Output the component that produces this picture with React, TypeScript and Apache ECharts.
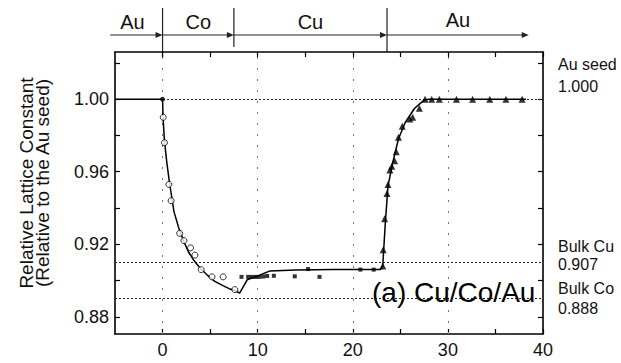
import React, { useEffect, useRef } from "react";
import * as echarts from "echarts";

// ---- data ----
const xTickValues = [0, 5, 10, 15, 20, 25, 30, 35, 40];
const xLabelValues = [0, 10, 20, 30, 40];
const yTickValues = [0.88, 0.9, 0.92, 0.94, 0.96, 0.98, 1.0, 1.02];
const yLabelValues = [0.88, 0.92, 0.96, 1.0];
const gridXValues = [0, 10, 20, 30];
const refLevels = [1.0, 0.907, 0.888];

const seedPoint: [number, number][] = [[0, 1.0]];

const coCircles: [number, number][] = [
  [0.07, 0.99], [0.2, 0.976], [0.67, 0.953], [0.9, 0.944], [1.8, 0.926],
  [2.25, 0.922], [2.94, 0.918], [3.4, 0.914], [4.06, 0.906], [5.2, 0.902],
  [6.37, 0.902], [7.6, 0.895],
];

const cuSquares: [number, number][] = [
  [8.3, 0.902], [9.0, 0.902], [9.4, 0.902], [9.8, 0.902], [10.2, 0.902],
  [10.6, 0.9022], [11.0, 0.9025], [11.7, 0.9026], [13.9, 0.9023], [15.3, 0.9063],
  [16.5, 0.902], [20.8, 0.906], [22.2, 0.906],
];

const auTriangles: [number, number][] = [
  [23.15, 0.908], [23.2, 0.917], [23.35, 0.934], [23.6, 0.948], [23.7, 0.953],
  [23.9, 0.961], [24.1, 0.963], [24.4, 0.966], [24.57, 0.971], [24.8, 0.979],
  [25.2, 0.985], [26.0, 0.989], [26.3, 0.99], [27.0, 0.995], [27.6, 1.0],
  [28.3, 1.0], [29.1, 1.0], [30.9, 1.0], [32.6, 1.0], [34.4, 1.0], [36.1, 1.0], [37.8, 1.0],
];

const fitCurve: [number, number][] = [
  [-5, 1.0], [0, 1.0], [0.05, 0.99], [0.2, 0.977], [0.45, 0.965], [0.7, 0.955],
  [1.2, 0.938], [1.7, 0.929], [2.2, 0.922], [2.7, 0.916], [3.3, 0.911], [4.0, 0.9065],
  [4.7, 0.903], [5.5, 0.8995], [6.4, 0.897], [7.0, 0.8955], [7.6, 0.8945], [8.1, 0.893],
  [8.9, 0.9004], [10, 0.9025], [11.3, 0.9053], [14, 0.9058], [18, 0.906], [22.9, 0.906],
  [23.15, 0.908], [23.4, 0.93], [23.7, 0.952], [24.2, 0.965], [24.8, 0.978],
  [25.5, 0.987], [26.5, 0.995], [27.5, 0.9995], [28, 1.0], [38.2, 1.0],
];

const layerEdges = [-5.5, 0, 7.5, 23.6, 38.5];
const layerNames = ["Au", "Co", "Cu", "Au"];

const yTitle = ["Relative Lattice Constant", "(Relative to the Au seed)"];
const rightNotes = [
  { text: "Au seed", y: 64 },
  { text: "1.000", y: 86 },
  { text: "Bulk Cu", y: 246 },
  { text: "0.907", y: 264 },
  { text: "Bulk Co", y: 288 },
  { text: "0.888", y: 308 },
];
const panelTitle = "(a) Cu/Co/Au";

const FONT = "Liberation Sans";

export default function App() {
  const ref = useRef<HTMLDivElement>(null);
  useEffect(() => {
    if (!ref.current) return;
    const chart = echarts.init(ref.current, null, { renderer: "svg" });
    const axisLine = { show: true, onZero: false, lineStyle: { color: "#000", width: 1.6 } };
    const tickStyle = { color: "#000", width: 1.2 };
    const xMin = -5, xMax = 40, yMin = 0.8705, yMax = 1.026;
    const option: any = {
      animation: false,
      backgroundColor: "#fff",
      textStyle: { fontFamily: FONT },
      grid: { left: 115, right: 78, top: 52, bottom: 29 },
      xAxis: [
        {
          type: "value", position: "bottom", min: xMin, max: xMax,
          axisLine, splitLine: { show: false },
          axisTick: { show: true, inside: true, length: 5, customValues: xTickValues, lineStyle: tickStyle },
          axisLabel: { customValues: xLabelValues, color: "#111", fontSize: 18, fontFamily: FONT, margin: 7 },
        },
        {
          type: "value", position: "top", min: xMin, max: xMax,
          axisLine, splitLine: { show: false },
          axisTick: { show: true, inside: true, length: 5, customValues: xTickValues, lineStyle: tickStyle },
          axisLabel: { show: false },
        },
      ],
      yAxis: [
        {
          type: "value", position: "left", min: yMin, max: yMax,
          axisLine, splitLine: { show: false },
          axisTick: { show: true, inside: true, length: 5, customValues: yTickValues, lineStyle: tickStyle },
          axisLabel: {
            customValues: yLabelValues, color: "#111", fontSize: 18, fontFamily: FONT, margin: 6,
            formatter: (v: number) => v.toFixed(2),
          },
        },
        {
          type: "value", position: "right", min: yMin, max: yMax,
          axisLine, splitLine: { show: false },
          axisTick: { show: true, inside: true, length: 5, customValues: yTickValues, lineStyle: tickStyle },
          axisLabel: { show: false },
        },
      ],
      series: [
        {
          type: "line", data: fitCurve, symbol: "none", z: 3,
          lineStyle: { color: "#000", width: 1.5 },
          markLine: {
            silent: true, symbol: "none", label: { show: false }, z: 1,
            data: [
              ...gridXValues.map((v) => ({ xAxis: v, lineStyle: { color: "#777", width: 1, type: [2, 9] } })),
              ...refLevels.map((v) => ({ yAxis: v, lineStyle: { color: "#222", width: 1, type: [2, 2] } })),
            ],
          },
        },
        { type: "scatter", data: seedPoint, symbol: "circle", symbolSize: 5, itemStyle: { color: "#000" }, z: 5 },
        {
          type: "scatter", data: coCircles, symbol: "circle", symbolSize: 6, z: 5,
          itemStyle: { color: "#fff", borderColor: "#000", borderWidth: 1 },
        },
        { type: "scatter", data: cuSquares, symbol: "rect", symbolSize: 4, itemStyle: { color: "#000" }, z: 5 },
        { type: "scatter", data: auTriangles, symbol: "triangle", symbolSize: 7, itemStyle: { color: "#000" }, z: 5 },
      ],
    };
    chart.setOption(option);

    const px = (x: number) => chart.convertToPixel({ xAxisIndex: 0 }, x) as number;
    const arrowY = 35;
    const graphics: any[] = [];
    for (let i = 0; i < layerNames.length; i++) {
      const x0 = px(layerEdges[i]);
      const x1 = px(layerEdges[i + 1]);
      graphics.push({
        type: "line", shape: { x1: x0, y1: arrowY, x2: x1 - 5, y2: arrowY },
        style: { stroke: "#222", lineWidth: 1.2 },
      });
      graphics.push({
        type: "polygon", shape: { points: [[x1, arrowY], [x1 - 7, arrowY - 3], [x1 - 7, arrowY + 3]] },
        style: { fill: "#222" },
      });
      graphics.push({
        type: "text", x: (x0 + x1) / 2 - (i === 0 ? 4 : 0), y: i === 3 ? 20 : 22,
        style: { text: layerNames[i], fontSize: 20, fontFamily: FONT, fill: "#111", align: "center", verticalAlign: "middle" },
      });
      if (i > 0) {
        graphics.push({
          type: "line", shape: { x1: x0, y1: 8, x2: x0, y2: i === 1 ? 58 : i === 3 ? 52 : 47 },
          style: { stroke: "#222", lineWidth: 1.2 },
        });
      }
    }
    yTitle.forEach((t, i) => {
      graphics.push({
        type: "text", x: 26 + i * 16.5, y: 183, rotation: Math.PI / 2,
        style: { text: t, fontSize: 19, fontFamily: FONT, fill: "#111", align: "center", verticalAlign: "middle" },
      });
    });
    rightNotes.forEach((n) => {
      graphics.push({
        type: "text", x: 558, y: n.y,
        style: { text: n.text, fontSize: 16, fontFamily: FONT, fill: "#111", align: "left", verticalAlign: "middle" },
      });
    });
    graphics.push({
      type: "text", x: 372, y: 292, z: 10,
      style: { text: panelTitle, fontSize: 28, fontFamily: FONT, fill: "#000", align: "left", verticalAlign: "middle" },
    });
    chart.setOption({ graphic: graphics });

    return () => chart.dispose();
  }, []);
  return <div ref={ref} style={{ width: 621, height: 363, position: "absolute", left: 0, top: 0 }} />;
}
